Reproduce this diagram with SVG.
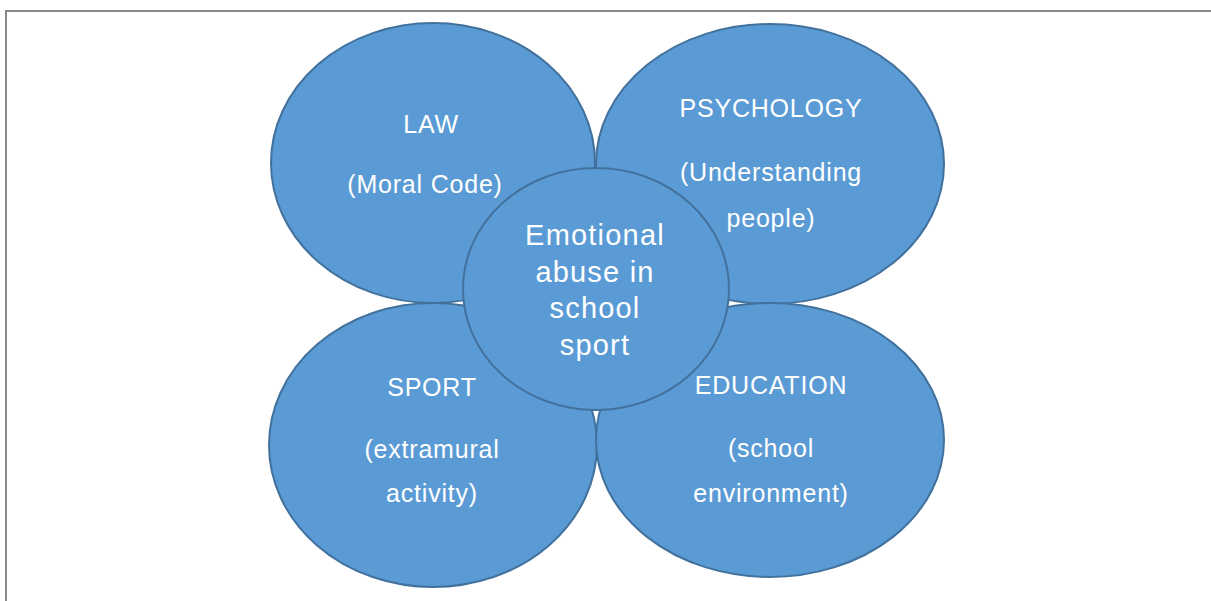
<svg xmlns="http://www.w3.org/2000/svg" width="1211" height="601" viewBox="0 0 1211 601">
  <style>
    .bubble { fill: #5B9BD5; stroke: #41719C; stroke-width: 2; }
    .lbl { fill: #FFFFFF; font-family: "Liberation Sans", Arial, sans-serif; font-size: 25px; text-anchor: middle; letter-spacing: 0.8px; }
    .core { fill: #FFFFFF; font-family: "Liberation Sans", Arial, sans-serif; font-size: 29px; text-anchor: middle; letter-spacing: 1.2px; }
  </style>
  <rect x="0" y="0" width="1211" height="601" fill="#FFFFFF"/>
  <rect x="6" y="11" width="1215" height="600" fill="none" stroke="#888888" stroke-width="2"/>
  <g id="connectors"></g>
  <g id="law">
    <ellipse class="bubble" cx="433" cy="163" rx="162" ry="140"/>
    <text class="lbl" x="431" y="133">LAW</text>
    <text class="lbl" x="425" y="193">(Moral Code)</text>
  </g>
  <g id="psychology">
    <ellipse class="bubble" cx="770" cy="164" rx="174" ry="140"/>
    <text class="lbl" x="771" y="117">PSYCHOLOGY</text>
    <text class="lbl" x="771" y="181">(Understanding</text>
    <text class="lbl" x="771" y="227">people)</text>
  </g>
  <g id="sport">
    <ellipse class="bubble" cx="433" cy="445" rx="164" ry="142"/>
    <text class="lbl" x="432" y="396">SPORT</text>
    <text class="lbl" x="432" y="458">(extramural</text>
    <text class="lbl" x="432" y="502">activity)</text>
  </g>
  <g id="education">
    <ellipse class="bubble" cx="770" cy="440" rx="174" ry="137"/>
    <text class="lbl" x="771" y="394">EDUCATION</text>
    <text class="lbl" x="771" y="457">(school</text>
    <text class="lbl" x="771" y="502">environment)</text>
  </g>
  <g id="center">
    <ellipse class="bubble" cx="596" cy="289" rx="133" ry="121"/>
    <text class="core" x="595" y="245">Emotional</text>
    <text class="core" x="595" y="282">abuse in</text>
    <text class="core" x="595" y="318">school</text>
    <text class="core" x="595" y="355">sport</text>
  </g>
</svg>
